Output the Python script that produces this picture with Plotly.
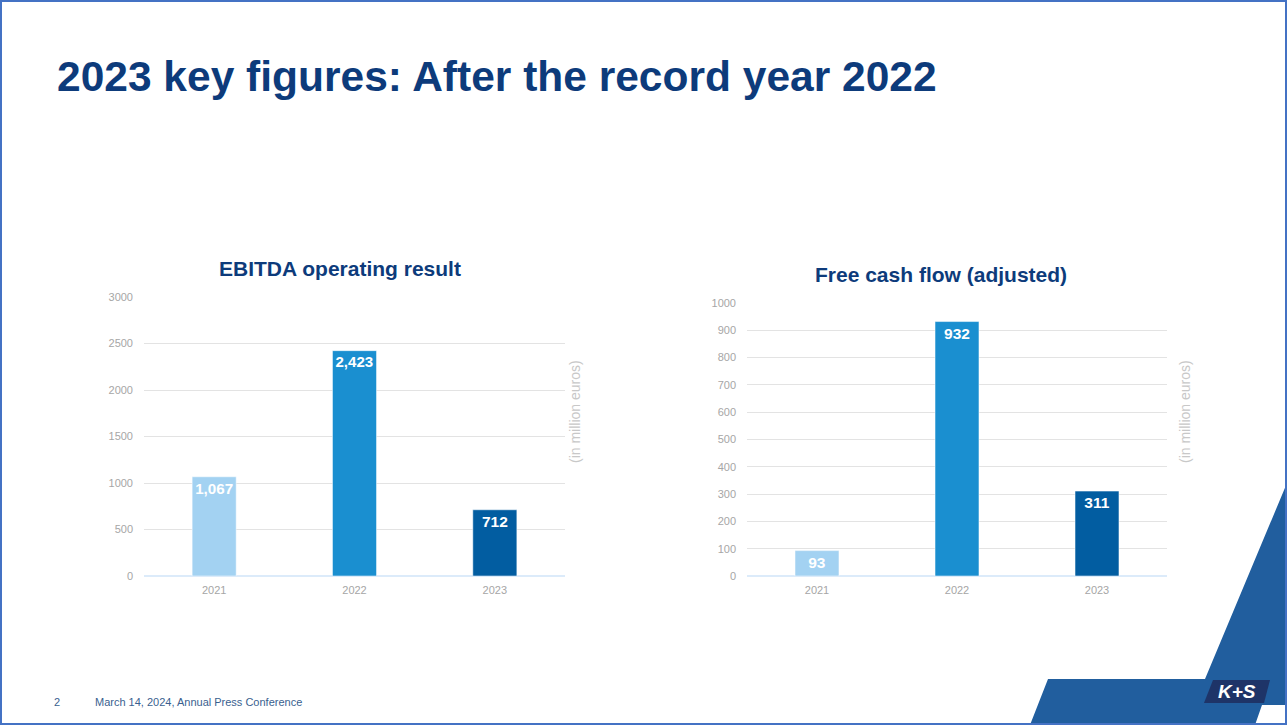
import plotly.graph_objects as go

W, H = 1287, 725

years = ["2021", "2022", "2023"]
ebitda = [1067, 2423, 712]
ebitda_labels = ["1,067", "2,423", "712"]
fcf = [93, 932, 311]
fcf_labels = ["93", "932", "311"]
bar_colors = ["#A3D2F2", "#1A8FD0", "#025DA1"]

ebitda_ticks = [0, 500, 1000, 1500, 2000, 2500, 3000]
fcf_ticks = [0, 100, 200, 300, 400, 500, 600, 700, 800, 900, 1000]


def px(x):
    return x / W


def py(y):
    return 1 - y / H


def path(points):
    s = "M " + " L ".join(f"{px(x):.5f},{py(y):.5f}" for x, y in points) + " Z"
    return s


fig = go.Figure()

for xa, ya, vals, labels in [("x", "y", ebitda, ebitda_labels), ("x2", "y2", fcf, fcf_labels)]:
    fig.add_trace(go.Bar(
        x=years, y=vals, text=labels, xaxis=xa, yaxis=ya,
        marker=dict(color=bar_colors, line=dict(color="rgba(255,255,255,0.5)", width=1)),
        textposition="inside", insidetextanchor="end", textangle=0,
        textfont=dict(family="Liberation Sans, Arial", size=15.5, color="white", weight="bold"),
        hoverinfo="skip", showlegend=False, cliponaxis=False,
    ))

tickfont = dict(family="Liberation Sans, Arial", size=11, color="#A6A6A6")

xcommon = dict(type="category", range=[-0.5, 2.5], showgrid=False, showline=False,
               zeroline=False, ticks="", tickfont=tickfont, ticklabelstandoff=6,
               fixedrange=True, automargin=False)
ycommon = dict(showgrid=True, gridcolor="#E3E3E3", gridwidth=1, zeroline=True,
               zerolinecolor="#DCEBFA", zerolinewidth=1.5, showline=False, ticks="",
               tickfont=tickfont, ticklabelstandoff=10, fixedrange=True, automargin=False)

fig.update_layout(
    width=W, height=H,
    margin=dict(l=0, r=0, t=0, b=0, pad=0, autoexpand=False),
    paper_bgcolor="white", plot_bgcolor="white",
    showlegend=False,
    bargap=0.686,
    xaxis=dict(domain=[px(144), px(565)], anchor="y", **xcommon),
    yaxis=dict(domain=[py(576), py(297)], anchor="x", range=[0, 3000],
               tickvals=ebitda_ticks, **ycommon),
    xaxis2=dict(domain=[px(747), px(1167)], anchor="y2", **xcommon),
    yaxis2=dict(domain=[py(576), py(303)], anchor="x2", range=[0, 1000],
                tickvals=fcf_ticks, **ycommon),
)

blue = "#215E9E"
shapes = [
    dict(type="path", path=path([(1287, 483), (1205, 679), (1048, 679), (1030, 725),
                                 (1255, 725), (1262, 705), (1287, 705)]),
         xref="paper", yref="paper", fillcolor=blue, line=dict(width=0), layer="below"),
    dict(type="path", path=path([(1213, 680), (1270, 680), (1264, 703), (1204, 703)]),
         xref="paper", yref="paper", fillcolor="#1E3468", line=dict(width=0)),
    dict(type="rect", x0=px(1), y0=py(724), x1=px(1286), y1=py(1),
         xref="paper", yref="paper", line=dict(color="#4472C4", width=2),
         fillcolor="rgba(0,0,0,0)"),
]
fig.update_layout(shapes=shapes)

navy = "#0D3B7B"


def ann(text, x, y, size, color, xanchor="center", bold=False, angle=0, family="Liberation Sans, Arial"):
    return dict(text=text, x=px(x), y=py(y), xref="paper", yref="paper",
                xanchor=xanchor, yanchor="middle", showarrow=False, textangle=angle,
                font=dict(family=family, size=size, color=color,
                          weight="bold" if bold else "normal"))


annotations = [
    ann("2023 key figures: After the record year 2022", 55, 76, 42.5, navy, "left", True),
    ann("EBITDA operating result", 340, 268, 21, navy, bold=True),
    ann("Free cash flow (adjusted)", 941, 274, 21, navy, bold=True),
    ann("(in million euros)", 575, 412, 14, "#C8C8C8", angle=-90),
    ann("(in million euros)", 1185, 412, 14, "#C8C8C8", angle=-90),
    ann("2", 57, 702, 11, "#3A5F8F"),
    ann("March 14, 2024, Annual Press Conference", 93, 702, 11, "#3A5F8F", "left"),
    ann("<i>K+S</i>", 1237, 691.5, 19, "white", bold=True),
]
fig.update_layout(annotations=annotations)

fig.write_html("out.html")
